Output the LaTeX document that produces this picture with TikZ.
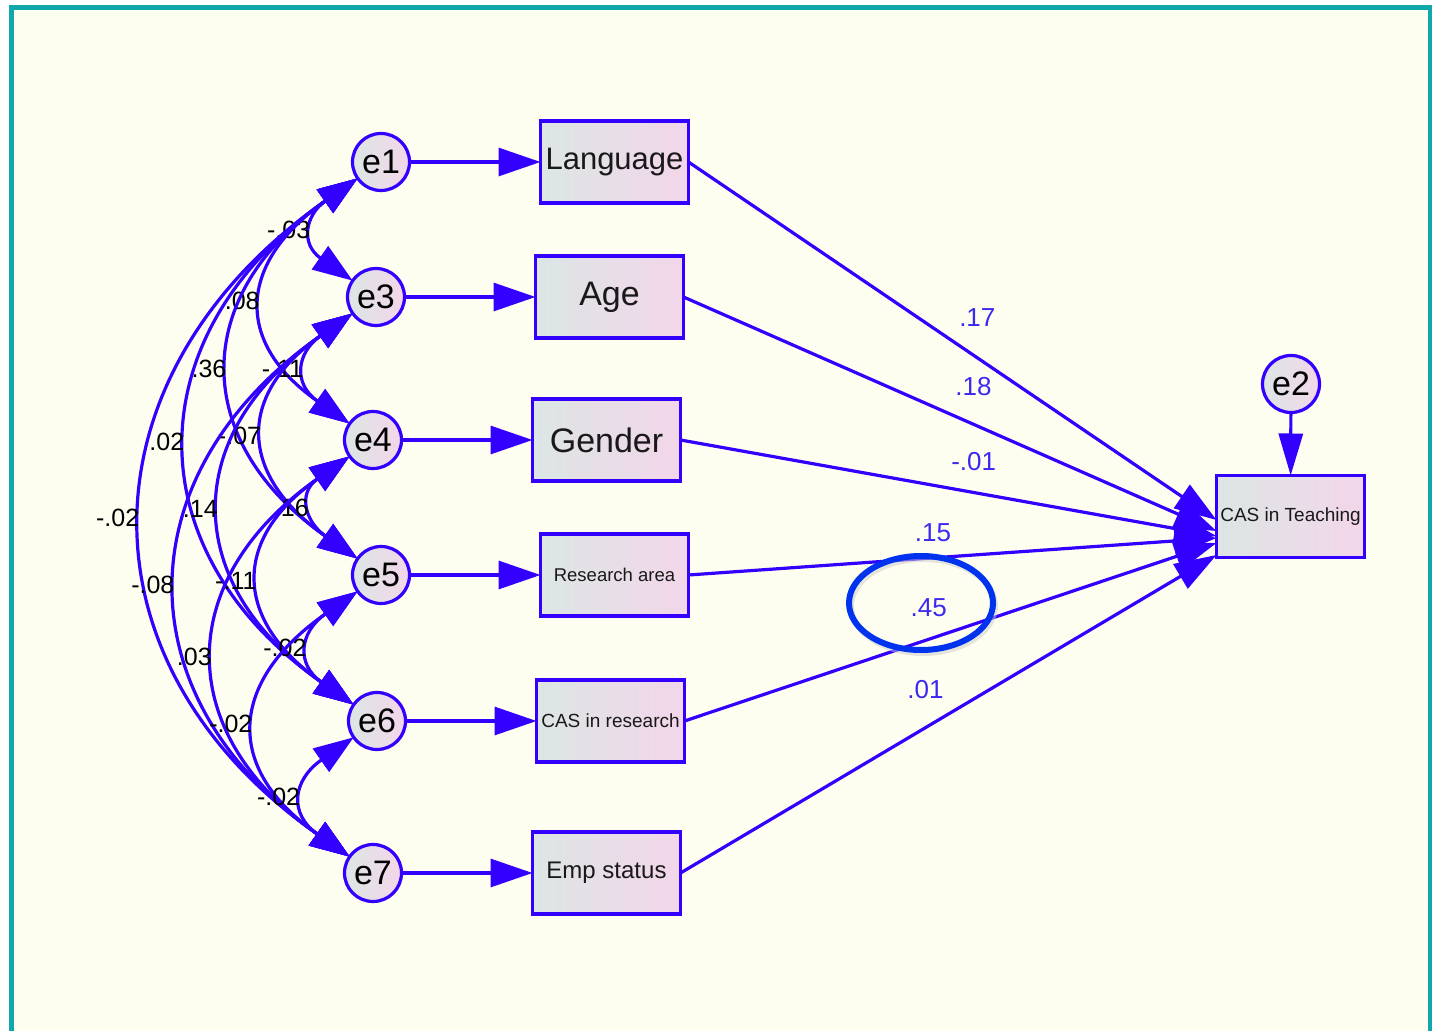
\documentclass[tikz,border=0pt]{standalone}
\usepackage{fontspec}
\setmainfont{Liberation Sans}
\usetikzlibrary{positioning,arrows.meta}

\definecolor{amosblue}{RGB}{51,0,255}
\definecolor{coefblue}{RGB}{60,40,240}
\definecolor{ringblue}{RGB}{0,51,238}
\definecolor{frameteal}{RGB}{16,168,170}
\definecolor{paper}{RGB}{254,254,240}
\definecolor{shadegray}{RGB}{220,230,228}
\definecolor{shadepink}{RGB}{243,214,234}

\tikzset{
  errc/.style={circle, draw=amosblue, line width=3.2pt, minimum size=57pt, inner sep=0pt, outer sep=0pt,
    left color=shadegray, right color=shadepink, font=\fontsize{34}{34}\selectfont},
  obsbox/.style={rectangle, draw=amosblue, line width=3.5pt, minimum width=148pt, minimum height=82pt,
    inner sep=0pt, outer sep=0pt, left color=shadegray, right color=shadepink, text=black!90},
  regarr/.style={amosblue, line width=3.2pt, -{Triangle[length=42pt,width=28pt]}},
  covarr/.style={amosblue, line width=3.2pt, {Triangle[length=40pt,width=28pt]}-{Triangle[length=40pt,width=28pt]}},
  covlbl/.style={font=\fontsize{25}{25}\selectfont, inner sep=0pt, text=black},
  plbl/.style={font=\fontsize{26}{26}\selectfont, inner sep=0pt, text=coefblue}
}

\begin{document}
\begin{tikzpicture}[x=1pt,y=1pt]
    \useasboundingbox (0,0) rectangle (1434,1031);
    % background and frame
    \fill[white] (0,0) rectangle (1434,1031);
    \fill[paper] (12,0) rectangle (1430,1024);
    \draw[frameteal, line width=4.5pt] (11.5,0) -- (11.5,1023.5) -- (1430,1023.5) -- (1430,0);

    % error terms
    \node[errc] (e1) at (381,869) {e1};
    \node[errc] (e3) at (376,734) {e3};
    \node[errc] (e4) at (373,591) {e4};
    \node[errc] (e5) at (381,456) {e5};
    \node[errc] (e6) at (377,310) {e6};
    \node[errc] (e7) at (373,158) {e7};
    \node[errc] (e2) at (1291,647) {e2};

    % observed variables
    \node[obsbox, right=131pt of e1, font=\fontsize{31}{31}\selectfont] (lang) {Language};
    \node[obsbox, right=131pt of e3, font=\fontsize{34}{34}\selectfont] (age) {Age};
    \node[obsbox, right=131pt of e4, font=\fontsize{34}{34}\selectfont] (gender) {Gender};
    \node[obsbox, right=131pt of e5, font=\fontsize{18.5}{18.5}\selectfont] (resarea) {Research area};
    \node[obsbox, right=131pt of e6, font=\fontsize{19}{19}\selectfont] (casres) {CAS in research};
    \node[obsbox, right=131pt of e7, font=\fontsize{24}{24}\selectfont] (emp) {Emp status};
    \node[obsbox, font=\fontsize{19}{19}\selectfont] (cast) at (1290.5,514.5) {CAS in Teaching};

    % error arrows
    \foreach \e/\v in {e1/lang,e3/age,e4/gender,e5/resarea,e6/casres,e7/emp}
      \draw[regarr] (\e) -- (\v);
    \draw[amosblue, line width=3.2pt, -{Triangle[length=42pt,width=24pt]}] (e2) -- (cast);

    % covariances
    \foreach \a/\b/\lo/\val in {e1/e3/1.6/-.03, e1/e4/1.5/.08, e1/e5/1.38/.36, e1/e6/1.31/.02, e1/e7/1.28/-.02,
                                e3/e4/1.6/-.11, e3/e5/1.5/-.07, e3/e6/1.38/.14, e3/e7/1.31/-.08,
                                e4/e5/1.6/.16, e4/e6/1.5/-.11, e4/e7/1.38/.03,
                                e5/e6/1.6/-.02, e5/e7/1.5/-.02,
                                e6/e7/1.6/-.02}
      \draw[covarr] (\a) to[out=215,in=145,looseness=\lo] node[covlbl,midway,left=4pt] {\val} (\b);

    % regression paths
    \draw[regarr] (lang.east) -- node[plbl,pos=.547,above=30pt] {.17} ([yshift=-3.5pt]cast.west);
    \draw[regarr] (age.east) -- node[plbl,pos=.544,above=27pt] {.18} ([yshift=-14.5pt]cast.west);
    \draw[regarr] (gender.east) -- node[plbl,pos=.547,above=20pt] {-.01} ([yshift=-19.5pt]cast.west);
    \draw[regarr] (resarea.east) -- node[plbl,pos=.463,above=15pt] {.15} ([yshift=-21.5pt]cast.west);
    \draw[regarr] (casres.east) -- node[plbl,pos=.459,above=21pt] {.45} ([yshift=-26.5pt]cast.west);
    \draw[regarr] (emp.east) -- node[plbl,pos=.457,above=27pt] {.01} ([yshift=-38.5pt]cast.west);

    % highlight
    \draw[black!20, line width=6pt, opacity=.5] (923,425) ellipse [x radius=72pt, y radius=47pt];
    \draw[ringblue, line width=6pt] (921,428) ellipse [x radius=72pt, y radius=47pt];
  \end{tikzpicture}
\end{document}
